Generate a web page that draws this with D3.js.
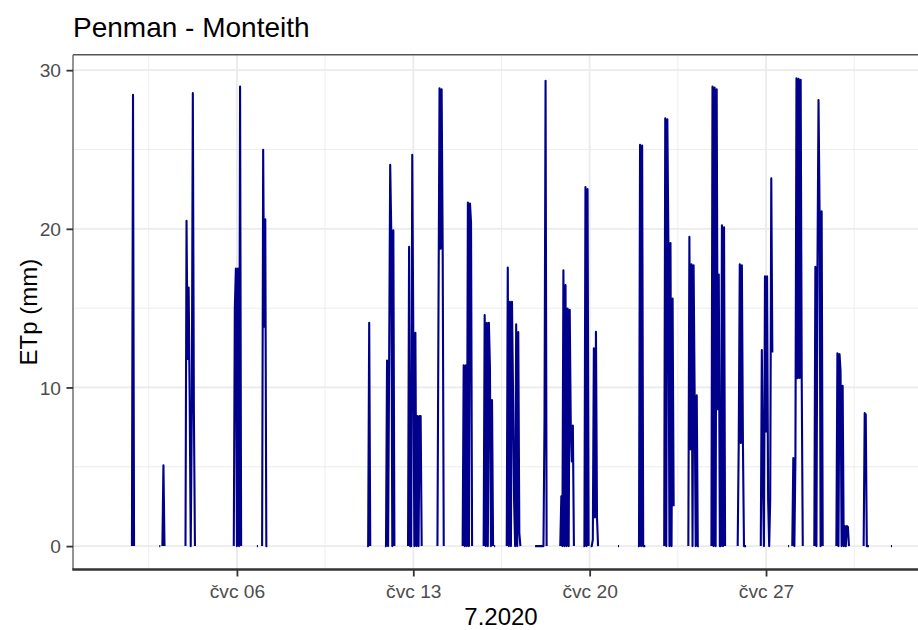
<!DOCTYPE html>
<html>
<head>
<meta charset="utf-8">
<script src="https://cdn.jsdelivr.net/npm/d3@7"></script>
<style>
  html, body { margin: 0; padding: 0; background: #fff; }
  svg { display: block; font-family: "Liberation Sans", Arial, sans-serif; }
</style>
</head>
<body>
<svg id="chart" width="918" height="630"></svg>
<script>
// ---- data (hourly ETp runs; gaps between runs are missing values) ----
const dataStart = "2020-07-01T01:00:00Z";
const dataEnd   = "2020-08-01T00:00:00Z";

const runStart = [
  "2020-07-01T20:00:00Z", "2020-07-02T22:00:00Z", "2020-07-03T01:00:00Z", "2020-07-03T23:00:00Z",
  "2020-07-05T21:00:00Z", "2020-07-06T19:00:00Z", "2020-07-07T00:00:00Z", "2020-07-11T04:00:00Z",
  "2020-07-11T21:00:00Z", "2020-07-12T19:00:00Z", "2020-07-13T23:00:00Z", "2020-07-14T23:00:00Z",
  "2020-07-15T19:00:00Z", "2020-07-16T05:00:00Z", "2020-07-16T17:00:00Z", "2020-07-17T20:00:00Z",
  "2020-07-18T20:00:00Z", "2020-07-19T18:00:00Z", "2020-07-20T01:00:00Z", "2020-07-21T03:00:00Z",
  "2020-07-21T22:00:00Z", "2020-07-22T23:00:00Z", "2020-07-23T22:00:00Z", "2020-07-24T20:00:00Z",
  "2020-07-25T21:00:00Z", "2020-07-26T19:00:00Z", "2020-07-27T21:00:00Z", "2020-07-28T01:00:00Z",
  "2020-07-28T22:00:00Z", "2020-07-29T19:00:00Z", "2020-07-30T21:00:00Z", "2020-07-31T23:00:00Z"
];

const runValues = [
  [0, 28.45, 0],
  [0, 0],
  [0, 5.1, 0],
  [0, 20.5, 11.8, 16.3, 9.2, 0, 8.5, 28.55, 8.5, 0],
  [0, 15.0, 17.5, 0, 17.5, 0, 28.96, 0],
  [0, 0],
  [0, 24.98, 13.83, 20.6, 0, 0],
  [0, 0, 14.08, 0],
  [0, 0, 11.7, 0, 11.7, 24.03, 19.9, 0, 19.9, 0],
  [0, 18.86, 0, 0, 24.66, 13.45, 0, 13.45, 0, 8.2, 0, 8.2, 8.2, 0],
  [0, 14.9, 28.85, 18.75, 28.8, 18.75, 0],
  [0, 11.4, 0, 11.4, 0, 21.65, 0, 21.6, 20.4, 0],
  [0, 14.56, 0, 14.07, 0, 14.07, 11.3, 0, 9.2, 0],
  [0, 0],
  [0, 17.56, 0, 15.4, 0, 15.4, 9.74, 2.9, 0, 13.98, 0, 13.5, 0.84, 0],
  [0, 0, 0, 0, 0, 0, 0, 0, 0, 8.0, 29.33, 0],
  [0, 3.14, 0, 17.39, 0, 16.45, 0, 14.98, 0, 14.9, 7.65, 5.34, 7.6, 0],
  [0, 0, 22.63, 0, 22.5, 0],
  [0, 0, 0.4, 12.47, 1.8, 13.51, 1.8, 0],
  [0, 0],
  [0, 0, 25.29, 0, 25.25, 0, 0, 0],
  [0, 26.97, 0, 26.9, 19.11, 0, 19.1, 0, 15.61, 2.51],
  [0, 19.49, 6.1, 17.77, 0, 17.7, 9.53, 0, 9.5, 0, 0],
  [0, 28.96, 0, 28.9, 0, 28.8, 8.63, 17.12, 0, 0, 20.22, 0, 20.1, 0],
  [0, 6.5, 17.77, 6.5, 17.7, 6.5, 0, 0, 0],
  [0, 12.36, 4.19, 0, 17.01, 7.23, 17.0, 2.94, 0, 2.94, 23.19, 12.2],
  [0, 0],
  [0, 5.55, 0, 5.5, 29.48, 10.58, 29.45, 10.6, 29.4, 10.58, 0],
  [0, 17.6, 0, 17.6, 28.12, 21.16, 0, 21.1, 0],
  [0, 12.15, 0, 12.1, 11.04, 0, 10.1, 0, 1.26, 0, 1.26, 1.2, 0],
  [0, 8.38, 8.3, 0, 0, 0],
  [0, 0]
];

const xTickDates  = ["2020-07-06T00:00:00Z", "2020-07-13T00:00:00Z", "2020-07-20T00:00:00Z", "2020-07-27T00:00:00Z"];
const xTickLabels = ["čvc 06", "čvc 13", "čvc 20", "čvc 27"];
const xMinorDates = ["2020-07-02T12:00:00Z", "2020-07-09T12:00:00Z", "2020-07-16T12:00:00Z", "2020-07-23T12:00:00Z", "2020-07-30T12:00:00Z"];
const yTicks      = [0, 10, 20, 30];
const yMinor      = [5, 15, 25];
const yMax        = 29.5;

const titleText = "Penman - Monteith";
const xTitle = "7.2020";
const yTitle = "ETp (mm)";

// ---- layout ----
const svg = d3.select("#chart");
const P = { left: 73, right: 931, top: 54.7, bottom: 569.5 };
const HOUR = 3600 * 1000;

const t0 = new Date(dataStart), t1 = new Date(dataEnd);
const span = t1 - t0;
const x = d3.scaleUtc()
  .domain([new Date(+t0 - 0.05 * span), new Date(+t1 + 0.05 * span)])
  .range([P.left, P.right]);
const y = d3.scaleLinear()
  .domain([0 - 0.05 * yMax, yMax + 0.05 * yMax])
  .range([P.bottom, P.top]);

svg.append("rect").attr("width", 918).attr("height", 630).attr("fill", "#fff");

svg.append("defs").append("clipPath").attr("id", "panel")
  .append("rect").attr("x", P.left).attr("y", P.top)
  .attr("width", P.right - P.left).attr("height", P.bottom - P.top);

const grid = svg.append("g").attr("clip-path", "url(#panel)");
// minor grid
grid.selectAll(".ymin").data(yMinor).enter().append("line")
  .attr("x1", P.left).attr("x2", P.right).attr("y1", d => y(d)).attr("y2", d => y(d))
  .attr("stroke", "#EBEBEB").attr("stroke-width", 0.9);
grid.selectAll(".xmin").data(xMinorDates).enter().append("line")
  .attr("y1", P.top).attr("y2", P.bottom).attr("x1", d => x(new Date(d))).attr("x2", d => x(new Date(d)))
  .attr("stroke", "#EBEBEB").attr("stroke-width", 0.9);
// major grid
grid.selectAll(".ymaj").data(yTicks).enter().append("line")
  .attr("x1", P.left).attr("x2", P.right).attr("y1", d => y(d)).attr("y2", d => y(d))
  .attr("stroke", "#EBEBEB").attr("stroke-width", 1.8);
grid.selectAll(".xmaj").data(xTickDates).enter().append("line")
  .attr("y1", P.top).attr("y2", P.bottom).attr("x1", d => x(new Date(d))).attr("x2", d => x(new Date(d)))
  .attr("stroke", "#EBEBEB").attr("stroke-width", 1.8);

// ---- series ----
const line = d3.line().x(d => x(d.t)).y(d => y(d.v));
const runs = runStart.map((s, i) => {
  const st = +new Date(s);
  return runValues[i].map((v, j) => ({ t: new Date(st + j * HOUR), v }));
});
const lines = svg.append("g").attr("clip-path", "url(#panel)");
lines.selectAll("path").data(runs).enter().append("path")
  .attr("d", line)
  .attr("fill", "none")
  .attr("stroke", "#00008B")
  .attr("stroke-width", 2.1)
  .attr("stroke-linejoin", "round")
  .attr("stroke-linecap", "butt");

// ---- panel border ----
svg.append("line").attr("x1", P.left).attr("x2", 918).attr("y1", P.top).attr("y2", P.top)
  .attr("stroke", "#555").attr("stroke-width", 1.6);
svg.append("line").attr("x1", P.left).attr("x2", P.left).attr("y1", P.top).attr("y2", P.bottom)
  .attr("stroke", "#666").attr("stroke-width", 1.4);
svg.append("line").attr("x1", P.left - 0.7).attr("x2", 918).attr("y1", P.bottom).attr("y2", P.bottom)
  .attr("stroke", "#333").attr("stroke-width", 2.6);

// ---- axes ----
const yAxis = svg.append("g").attr("transform", `translate(${P.left},0)`)
  .call(d3.axisLeft(y).tickValues(yTicks).tickSize(6.5).tickPadding(5.5).tickFormat(d3.format("d")));
yAxis.select(".domain").remove();
yAxis.selectAll(".tick line").attr("stroke", "#333").attr("stroke-width", 1.8);
yAxis.selectAll(".tick text").attr("fill", "#4D4D4D").attr("font-size", "19.2px")
  .attr("font-family", "Liberation Sans, Arial, sans-serif").attr("dy", "0.35em");

const xAxis = svg.append("g").attr("transform", `translate(0,${P.bottom})`)
  .call(d3.axisBottom(x).tickValues(xTickDates.map(d => new Date(d)))
    .tickFormat((d, i) => xTickLabels[i]).tickSize(7).tickPadding(8));
xAxis.select(".domain").remove();
xAxis.selectAll(".tick line").attr("stroke", "#333").attr("stroke-width", 1.8);
xAxis.selectAll(".tick text").attr("fill", "#4D4D4D").attr("font-size", "19.2px")
  .attr("font-family", "Liberation Sans, Arial, sans-serif");

// ---- titles ----
svg.append("text").attr("x", P.left).attr("y", 37.3)
  .attr("font-size", "28px").attr("fill", "#000").text(titleText);
svg.append("text").attr("x", (P.left + P.right) / 2 - 1).attr("y", 625)
  .attr("text-anchor", "middle").attr("font-size", "24px").attr("fill", "#000").text(xTitle);
svg.append("text")
  .attr("transform", `translate(37,${(P.top + P.bottom) / 2}) rotate(-90)`)
  .attr("text-anchor", "middle").attr("font-size", "24px").attr("fill", "#000").text(yTitle);
</script>
</body>
</html>
